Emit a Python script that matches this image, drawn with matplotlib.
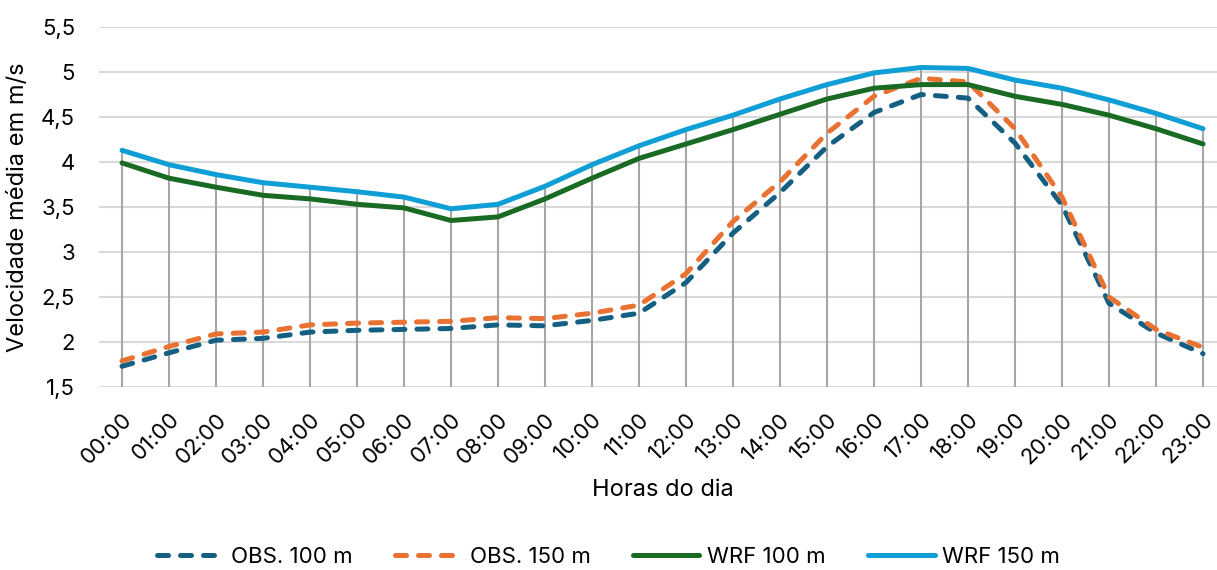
import matplotlib
matplotlib.use("Agg")
import matplotlib.pyplot as plt
from matplotlib.ticker import FuncFormatter, MultipleLocator

plt.rcParams['font.family'] = ['Inter', 'DejaVu Sans']

hours = [f"{h:02d}:00" for h in range(24)]

obs_100 = [1.73, 1.88, 2.02, 2.04, 2.11, 2.13, 2.14, 2.15, 2.19, 2.18, 2.24, 2.32,
           2.66, 3.21, 3.66, 4.17, 4.55, 4.75, 4.71, 4.21, 3.52, 2.43, 2.10, 1.87]
obs_150 = [1.79, 1.95, 2.09, 2.11, 2.19, 2.21, 2.22, 2.23, 2.27, 2.26, 2.32, 2.41,
           2.76, 3.34, 3.78, 4.32, 4.73, 4.93, 4.89, 4.37, 3.61, 2.50, 2.14, 1.94]
wrf_100 = [3.99, 3.82, 3.72, 3.63, 3.59, 3.53, 3.49, 3.35, 3.39, 3.59, 3.82, 4.04,
           4.20, 4.36, 4.53, 4.70, 4.82, 4.86, 4.86, 4.73, 4.64, 4.52, 4.37, 4.20]
wrf_150 = [4.13, 3.97, 3.86, 3.77, 3.72, 3.67, 3.61, 3.48, 3.53, 3.73, 3.97, 4.18,
           4.36, 4.52, 4.70, 4.86, 4.99, 5.05, 5.04, 4.91, 4.82, 4.69, 4.54, 4.37]

W, H = 1217, 570
fig = plt.figure(figsize=(W / 100, H / 100), dpi=100)
left, right, top, bottom = 98.5, 1226.5, 27, 387
ax = fig.add_axes([left / W, 1 - bottom / H, (right - left) / W, (bottom - top) / H])

x = list(range(len(hours)))
ymin, ymax = 1.5, 5.5

# drop lines from the highest series down to the category axis
ax.vlines(x, ymin, wrf_150, colors="#A6A6A6", linewidth=1.5, zorder=2)

lw = 3.6
dash = (0, (2.2, 2.4))
ax.plot(x, obs_100, color="#156082", linewidth=lw, linestyle=dash,
        dash_capstyle="round", label="OBS. 100 m", zorder=3)
ax.plot(x, obs_150, color="#E97132", linewidth=lw, linestyle=dash,
        dash_capstyle="round", label="OBS. 150 m", zorder=3)
ax.plot(x, wrf_100, color="#196B24", linewidth=lw, solid_capstyle="round",
        solid_joinstyle="round", label="WRF 100 m", zorder=3)
ax.plot(x, wrf_150, color="#0F9ED5", linewidth=lw, solid_capstyle="round",
        solid_joinstyle="round", label="WRF 150 m", zorder=3)

ax.set_xlim(-0.5, len(hours) - 0.5)
ax.set_ylim(ymin, ymax)
ax.yaxis.set_major_locator(MultipleLocator(0.5))
ax.yaxis.set_major_formatter(FuncFormatter(lambda v, p: f"{v:g}".replace(".", ",")))
ax.grid(axis="y", color="#D9D9D9", linewidth=1.5, zorder=1)
ax.set_axisbelow(True)
for s in ax.spines.values():
    s.set_visible(False)
ax.tick_params(axis="both", length=0, labelsize=16, labelcolor="#000000")
ax.tick_params(axis="y", pad=17)
ax.set_xticks(x)
ax.set_xticklabels(hours, rotation=45, ha="right", rotation_mode="anchor")
ax.tick_params(axis="x", pad=16)

ax.set_ylabel("Velocidade média em m/s", fontsize=17, va="center")
ax.yaxis.set_label_coords((18 - left) / (right - left), 0.5)
ax.set_xlabel("Horas do dia", fontsize=17, va="center")
ax.xaxis.set_label_coords(0.5, (bottom - 490) / (bottom - top))

fig.legend(loc="center", bbox_to_anchor=(0.5, 1 - 557 / H), ncol=4, frameon=False,
           fontsize=16, handlelength=3.0, columnspacing=1.9, handletextpad=0.35)

fig.savefig("out.png", dpi=100)
